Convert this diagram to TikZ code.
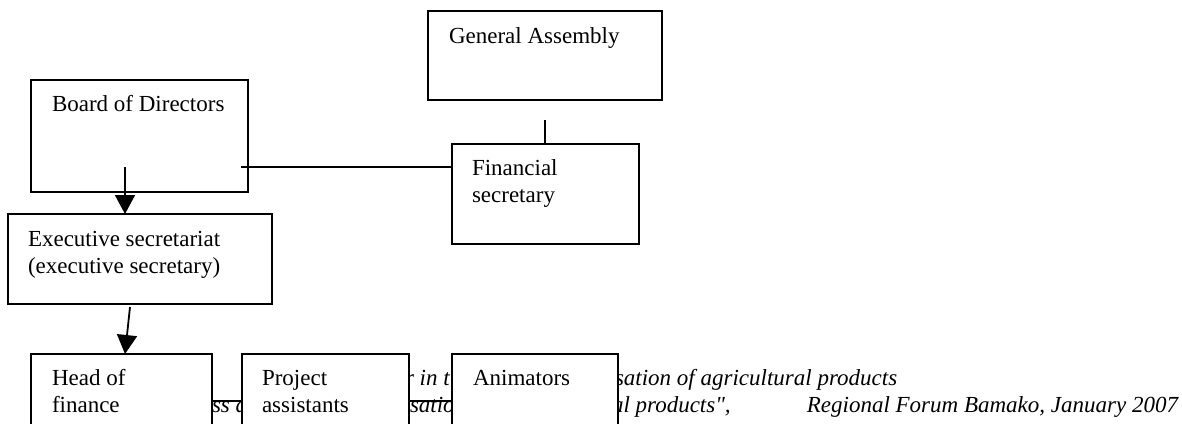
\documentclass[tikz,border=0pt]{standalone}
\usepackage{fontspec}
\setmainfont{Liberation Serif}
\usetikzlibrary{arrows.meta}
\begin{document}
\begin{tikzpicture}[x=0.5pt,y=-0.5pt,
  every node/.style={inner sep=0pt,outer sep=0pt},
  box/.style={draw=black,fill=white,line width=0.9pt,anchor=north west},
  txt/.style={anchor=base west,font=\fontsize{11.5}{13.5}\selectfont},
  itx/.style={anchor=base west,font=\fontsize{11.5}{13.5}\selectfont\itshape},
  conn/.style={line width=0.9pt},
  arr/.style={line width=0.9pt,-{Triangle[width=10pt,length=9.5pt]}}]
\useasboundingbox (0,0) rectangle (1182,423);
\clip (0,0) rectangle (1182,423);
% italic caption fragments (partly hidden behind the bottom boxes)
\node[itx] (c1a) at (405,385) {r in t};
\node[itx] (c1b) at (615,385) {sation of agricultural products};
\node[itx] (c2a) at (212,412) {ss d};
\node[itx] (c2b) at (410,412) {satio};
\node[itx] (c2c) at (612,412) {al products\textquotedbl,};
\node[itx,anchor=base east] (c2d) at (1178,412) {Regional Forum Bamako, January 2007};
% boxes
\node[box,minimum width=234pt*0.5,minimum height=89pt*0.5] (ga) at (428,11) {};
\node[box,minimum width=217pt*0.5,minimum height=112pt*0.5] (bd) at (31,80) {};
\node[box,minimum width=187pt*0.5,minimum height=100pt*0.5] (fs) at (452,144) {};
\node[box,minimum width=264pt*0.5,minimum height=90pt*0.5] (ex) at (8,214) {};
\node[box,minimum width=181pt*0.5,minimum height=90pt*0.5] (hf) at (31,354) {};
\node[box,minimum width=167pt*0.5,minimum height=90pt*0.5] (pa) at (242,354) {};
\node[box,minimum width=166pt*0.5,minimum height=90pt*0.5] (an) at (452,354) {};
% box texts
\node[txt] (gat) at (449,43) {General Assembly};
\node[txt] (bdt) at (52,111) {Board of Directors};
\node[txt] (fst1) at (472,175) {Financial};
\node[txt] (fst2) at (472,202) {secretary};
\node[txt] (ext1) at (28,246) {Executive secretariat};
\node[txt] (ext2) at (28,273) {(executive secretary)};
\node[txt] (hft1) at (52,385) {Head of};
\node[txt] (hft2) at (52,412) {finance};
\node[txt] (pat1) at (262,385) {Project};
\node[txt] (pat2) at (262,412) {assistants};
\node[txt] (ant1) at (473,385) {Animators};
% connectors
\coordinate (gaend) at (545,120);
\draw[conn] (gaend) -- (fs.north -| gaend);
\coordinate (bdend) at (241,167);
\draw[conn] (bdend) -- (bdend -| fs.west);
\coordinate (bdarr) at (125,167);
\draw[arr] (bdarr) -- (bdarr |- ex.north);
\coordinate (exarr) at (130,307);
\coordinate (hfarr) at (125,354);
\draw[arr] (exarr) -- (hfarr);
\coordinate (lowl) at (212,401);
\draw[conn] (lowl) -- (lowl -| pa.west);
\coordinate (lowr) at (409,401);
\draw[conn] (lowr) -- (lowr -| an.west);
\end{tikzpicture}
\end{document}
